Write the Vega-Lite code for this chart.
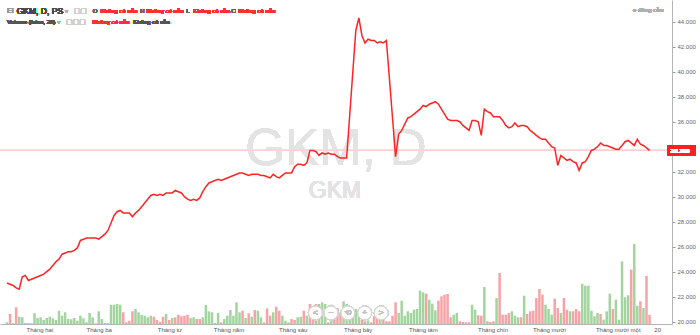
{
  "$schema": "https://vega.github.io/schema/vega-lite/v6.json",
  "width": 672,
  "height": 324,
  "autosize": {"type": "none"},
  "padding": {"left": 0, "top": 0, "right": 28, "bottom": 11},
  "background": "white",
  "config": {"view": {"stroke": null}, "font": "Liberation Sans", "axis": {"labelOverlap": false}},
  "data": {"values": [
    {"d":0,"close":23.1,"vol":1700,"dir":"up"},{"d":1,"close":23.0,"vol":10000,"dir":"down"},{"d":2,"close":22.9,"vol":1000,"dir":"up"},{"d":3,"close":22.7,"vol":16700,"dir":"down"},{"d":4,"close":22.6,"vol":7300,"dir":"up"},{"d":5,"close":23.6,"vol":6700,"dir":"up"},{"d":6,"close":23.7,"vol":1000,"dir":"up"},{"d":7,"close":23.3,"vol":1000,"dir":"up"},{"d":8,"close":23.4,"vol":700,"dir":"up"},{"d":9,"close":23.5,"vol":10700,"dir":"up"},
    {"d":10,"close":23.6,"vol":6000,"dir":"up"},{"d":11,"close":23.7,"vol":6700,"dir":"up"},{"d":12,"close":23.8,"vol":4000,"dir":"up"},{"d":13,"close":24.0,"vol":6000,"dir":"up"},{"d":14,"close":24.2,"vol":7300,"dir":"up"},{"d":15,"close":24.5,"vol":5700,"dir":"up"},{"d":16,"close":24.8,"vol":4000,"dir":"up"},{"d":17,"close":25.0,"vol":13300,"dir":"up"},{"d":18,"close":25.4,"vol":8300,"dir":"up"},{"d":19,"close":25.5,"vol":11700,"dir":"up"},
    {"d":20,"close":25.6,"vol":5000,"dir":"up"},{"d":21,"close":25.6,"vol":4700,"dir":"up"},{"d":22,"close":25.7,"vol":6000,"dir":"up"},{"d":23,"close":25.9,"vol":3300,"dir":"up"},{"d":24,"close":26.5,"vol":8300,"dir":"up"},{"d":25,"close":26.6,"vol":5700,"dir":"up"},{"d":26,"close":26.7,"vol":1700,"dir":"up"},{"d":27,"close":26.7,"vol":11000,"dir":"up"},{"d":28,"close":26.7,"vol":6700,"dir":"up"},{"d":29,"close":26.7,"vol":700,"dir":"down"},
    {"d":30,"close":26.6,"vol":12700,"dir":"up"},{"d":31,"close":26.8,"vol":5000,"dir":"up"},{"d":32,"close":27.0,"vol":1000,"dir":"up"},{"d":33,"close":27.3,"vol":1000,"dir":"up"},{"d":34,"close":27.9,"vol":19000,"dir":"up"},{"d":35,"close":28.5,"vol":19300,"dir":"up"},{"d":36,"close":28.8,"vol":20000,"dir":"up"},{"d":37,"close":28.9,"vol":19300,"dir":"up"},{"d":38,"close":28.7,"vol":11700,"dir":"down"},{"d":39,"close":28.7,"vol":1700,"dir":"down"},
    {"d":40,"close":28.7,"vol":3300,"dir":"down"},{"d":41,"close":28.4,"vol":12700,"dir":"down"},{"d":42,"close":28.7,"vol":15000,"dir":"up"},{"d":43,"close":28.9,"vol":11700,"dir":"up"},{"d":44,"close":29.2,"vol":9000,"dir":"up"},{"d":45,"close":29.5,"vol":8300,"dir":"up"},{"d":46,"close":29.8,"vol":6700,"dir":"up"},{"d":47,"close":30.1,"vol":8300,"dir":"up"},{"d":48,"close":30.2,"vol":7300,"dir":"down"},{"d":49,"close":30.1,"vol":4000,"dir":"down"},
    {"d":50,"close":30.2,"vol":2300,"dir":"down"},{"d":51,"close":30.1,"vol":7300,"dir":"down"},{"d":52,"close":30.3,"vol":10000,"dir":"up"},{"d":53,"close":30.3,"vol":4000,"dir":"down"},{"d":54,"close":30.3,"vol":6000,"dir":"up"},{"d":55,"close":30.5,"vol":6700,"dir":"down"},{"d":56,"close":30.4,"vol":9300,"dir":"down"},{"d":57,"close":30.3,"vol":7700,"dir":"down"},{"d":58,"close":30.0,"vol":8300,"dir":"down"},{"d":59,"close":29.8,"vol":9300,"dir":"down"},
    {"d":60,"close":29.7,"vol":6000,"dir":"up"},{"d":61,"close":29.8,"vol":6700,"dir":"up"},{"d":62,"close":29.7,"vol":5000,"dir":"down"},{"d":63,"close":29.9,"vol":5000,"dir":"down"},{"d":64,"close":30.4,"vol":6700,"dir":"up"},{"d":65,"close":30.8,"vol":19000,"dir":"up"},{"d":66,"close":31.1,"vol":12700,"dir":"up"},{"d":67,"close":31.2,"vol":11700,"dir":"up"},{"d":68,"close":31.3,"vol":1000,"dir":"up"},{"d":69,"close":31.4,"vol":11000,"dir":"up"},
    {"d":70,"close":31.3,"vol":1700,"dir":"down"},{"d":71,"close":31.4,"vol":5000,"dir":"up"},{"d":72,"close":31.5,"vol":8300,"dir":"up"},{"d":73,"close":31.6,"vol":14000,"dir":"up"},{"d":74,"close":31.7,"vol":8300,"dir":"up"},{"d":75,"close":31.8,"vol":21700,"dir":"up"},{"d":76,"close":31.9,"vol":11700,"dir":"up"},{"d":77,"close":31.9,"vol":13300,"dir":"down"},{"d":78,"close":31.8,"vol":6000,"dir":"up"},{"d":79,"close":31.7,"vol":10700,"dir":"down"},
    {"d":80,"close":31.8,"vol":7300,"dir":"up"},{"d":81,"close":31.8,"vol":14000,"dir":"down"},{"d":82,"close":31.8,"vol":13300,"dir":"up"},{"d":83,"close":31.7,"vol":6700,"dir":"up"},{"d":84,"close":31.7,"vol":1700,"dir":"down"},{"d":85,"close":31.6,"vol":15700,"dir":"down"},{"d":86,"close":31.5,"vol":8300,"dir":"down"},{"d":87,"close":31.8,"vol":11700,"dir":"up"},{"d":88,"close":31.6,"vol":17300,"dir":"down"},{"d":89,"close":31.5,"vol":13300,"dir":"down"},
    {"d":90,"close":31.7,"vol":8300,"dir":"up"},{"d":91,"close":31.9,"vol":3300,"dir":"up"},{"d":92,"close":31.9,"vol":1700,"dir":"up"},{"d":93,"close":31.9,"vol":5000,"dir":"down"},{"d":94,"close":32.4,"vol":4000,"dir":"down"},{"d":95,"close":32.6,"vol":6700,"dir":"up"},{"d":96,"close":32.6,"vol":7300,"dir":"up"},{"d":97,"close":32.5,"vol":13300,"dir":"down"},{"d":98,"close":32.7,"vol":8300,"dir":"up"},{"d":99,"close":33.7,"vol":20000,"dir":"down"},
    {"d":100,"close":33.7,"vol":15000,"dir":"down"},{"d":101,"close":33.6,"vol":20000,"dir":"down"},{"d":102,"close":33.3,"vol":20000,"dir":"up"},{"d":103,"close":33.5,"vol":21700,"dir":"up"},{"d":104,"close":33.4,"vol":20000,"dir":"up"},{"d":105,"close":33.5,"vol":1700,"dir":"down"},{"d":106,"close":33.4,"vol":19300,"dir":"up"},{"d":107,"close":33.4,"vol":14000,"dir":"down"},{"d":108,"close":33.2,"vol":16000,"dir":"down"},{"d":109,"close":33.1,"vol":11700,"dir":"down"},
    {"d":110,"close":33.1,"vol":22700,"dir":"up"},{"d":111,"close":33.1,"vol":20000,"dir":"up"},{"d":112,"close":36.5,"vol":12000,"dir":"up"},{"d":113,"close":39.9,"vol":14300,"dir":"up"},{"d":114,"close":43.3,"vol":15000,"dir":"up"},{"d":115,"close":44.3,"vol":9300,"dir":"up"},{"d":116,"close":42.9,"vol":4300,"dir":"down"},{"d":117,"close":42.3,"vol":2700,"dir":"down"},{"d":118,"close":42.6,"vol":3700,"dir":"up"},{"d":119,"close":42.5,"vol":1700,"dir":"down"},
    {"d":120,"close":42.5,"vol":7700,"dir":"down"},{"d":121,"close":42.3,"vol":5000,"dir":"down"},{"d":122,"close":42.4,"vol":5000,"dir":"up"},{"d":123,"close":42.3,"vol":7000,"dir":"down"},{"d":124,"close":42.5,"vol":2700,"dir":"down"},{"d":125,"close":39.4,"vol":2700,"dir":"down"},{"d":126,"close":36.3,"vol":8300,"dir":"down"},{"d":127,"close":33.2,"vol":21700,"dir":"down"},{"d":128,"close":35.0,"vol":11000,"dir":"up"},{"d":129,"close":35.3,"vol":23300,"dir":"up"},
    {"d":130,"close":35.8,"vol":8300,"dir":"up"},{"d":131,"close":36.3,"vol":12700,"dir":"up"},{"d":132,"close":36.4,"vol":11000,"dir":"up"},{"d":133,"close":36.6,"vol":14300,"dir":"up"},{"d":134,"close":36.8,"vol":15000,"dir":"up"},{"d":135,"close":37.0,"vol":33300,"dir":"up"},{"d":136,"close":37.3,"vol":31700,"dir":"up"},{"d":137,"close":37.2,"vol":30300,"dir":"down"},{"d":138,"close":37.4,"vol":24300,"dir":"up"},{"d":139,"close":37.5,"vol":20300,"dir":"up"},
    {"d":140,"close":37.6,"vol":13700,"dir":"up"},{"d":141,"close":37.4,"vol":23300,"dir":"down"},{"d":142,"close":37.0,"vol":27700,"dir":"down"},{"d":143,"close":36.6,"vol":29300,"dir":"down"},{"d":144,"close":36.2,"vol":30000,"dir":"down"},{"d":145,"close":36.1,"vol":6700,"dir":"down"},{"d":146,"close":36.1,"vol":9300,"dir":"up"},{"d":147,"close":36.1,"vol":11000,"dir":"up"},{"d":148,"close":36.0,"vol":2700,"dir":"down"},{"d":149,"close":35.7,"vol":2000,"dir":"down"},
    {"d":150,"close":35.5,"vol":1700,"dir":"down"},{"d":151,"close":35.3,"vol":1700,"dir":"down"},{"d":152,"close":36.1,"vol":19300,"dir":"up"},{"d":153,"close":36.1,"vol":14300,"dir":"up"},{"d":154,"close":36.0,"vol":8700,"dir":"down"},{"d":155,"close":34.9,"vol":8300,"dir":"down"},{"d":156,"close":37.0,"vol":37000,"dir":"up"},{"d":157,"close":36.8,"vol":2700,"dir":"down"},{"d":158,"close":36.7,"vol":2000,"dir":"down"},{"d":159,"close":36.4,"vol":2700,"dir":"down"},
    {"d":160,"close":36.4,"vol":26000,"dir":"up"},{"d":161,"close":36.4,"vol":51000,"dir":"down"},{"d":162,"close":36.1,"vol":9300,"dir":"down"},{"d":163,"close":35.7,"vol":9300,"dir":"down"},{"d":164,"close":35.5,"vol":11000,"dir":"down"},{"d":165,"close":35.6,"vol":12700,"dir":"up"},{"d":166,"close":35.9,"vol":8300,"dir":"up"},{"d":167,"close":35.6,"vol":6700,"dir":"up"},{"d":168,"close":35.7,"vol":6700,"dir":"down"},{"d":169,"close":35.7,"vol":28300,"dir":"up"},
    {"d":170,"close":35.6,"vol":10000,"dir":"down"},{"d":171,"close":35.3,"vol":12700,"dir":"down"},{"d":172,"close":35.1,"vol":13300,"dir":"down"},{"d":173,"close":34.9,"vol":26000,"dir":"down"},{"d":174,"close":34.7,"vol":35000,"dir":"down"},{"d":175,"close":34.6,"vol":29300,"dir":"down"},{"d":176,"close":34.6,"vol":19300,"dir":"up"},{"d":177,"close":34.3,"vol":15000,"dir":"up"},{"d":178,"close":34.0,"vol":9300,"dir":"up"},{"d":179,"close":33.9,"vol":25300,"dir":"down"},
    {"d":180,"close":32.5,"vol":16000,"dir":"down"},{"d":181,"close":33.3,"vol":11000,"dir":"up"},{"d":182,"close":33.1,"vol":26000,"dir":"down"},{"d":183,"close":32.9,"vol":14300,"dir":"down"},{"d":184,"close":33.0,"vol":12700,"dir":"up"},{"d":185,"close":32.8,"vol":12700,"dir":"down"},{"d":186,"close":32.7,"vol":15000,"dir":"down"},{"d":187,"close":32.1,"vol":12700,"dir":"down"},{"d":188,"close":32.7,"vol":40300,"dir":"up"},{"d":189,"close":32.8,"vol":38300,"dir":"up"},
    {"d":190,"close":33.2,"vol":38300,"dir":"up"},{"d":191,"close":33.7,"vol":13300,"dir":"up"},{"d":192,"close":33.8,"vol":7700,"dir":"up"},{"d":193,"close":34.0,"vol":11000,"dir":"up"},{"d":194,"close":34.3,"vol":10000,"dir":"down"},{"d":195,"close":34.1,"vol":4300,"dir":"up"},{"d":196,"close":34.1,"vol":12700,"dir":"up"},{"d":197,"close":34.0,"vol":30300,"dir":"up"},{"d":198,"close":33.9,"vol":15000,"dir":"down"},{"d":199,"close":33.8,"vol":24300,"dir":"up"},
    {"d":200,"close":33.8,"vol":4300,"dir":"up"},{"d":201,"close":34.1,"vol":62700,"dir":"up"},{"d":202,"close":34.4,"vol":26700,"dir":"up"},{"d":203,"close":34.5,"vol":28700,"dir":"up"},{"d":204,"close":34.3,"vol":54300,"dir":"down"},{"d":205,"close":34.1,"vol":80000,"dir":"up"},{"d":206,"close":34.6,"vol":18300,"dir":"up"},{"d":207,"close":34.2,"vol":22700,"dir":"down"},{"d":208,"close":34.1,"vol":16000,"dir":"up"},{"d":209,"close":33.9,"vol":48000,"dir":"down"},
    {"d":210,"close":33.7,"vol":9000,"dir":"down"}
  ]},
  "layer": [
    {
      "mark": {"type": "bar", "size": 2.5, "clip": true},
      "encoding": {
        "x": {"field": "d", "type": "quantitative", "scale": {"domain": [-0.644, 215.7], "nice": false, "zero": false},
          "axis": {"title": null, "values": [10.6, 30, 53.1, 72.4, 93.4, 114.6, 135.9, 158.7, 177.1, 199.6, 212.5], "tickCount": 30,
            "labelExpr": "datum.value < 20 ? 'Tháng hai' : datum.value < 40 ? 'Tháng ba' : datum.value < 60 ? 'Tháng tư' : datum.value < 80 ? 'Tháng năm' : datum.value < 100 ? 'Tháng sáu' : datum.value < 120 ? 'Tháng bảy' : datum.value < 145 ? 'Tháng tám' : datum.value < 165 ? 'Tháng chín' : datum.value < 185 ? 'Tháng mười' : datum.value < 205 ? 'Tháng mười một' : '20'",
            "ticks": false, "grid": false, "domainColor": "#b4b4b4", "labelFontSize": 6, "labelColor": "#555555", "labelPadding": 2, "labelOverlap": false, "labelFlush": false, "labelFont": "Liberation Sans"}},
        "y": {"field": "vol", "type": "quantitative", "scale": {"domain": [0, 324000], "nice": false}, "axis": null},
        "color": {"field": "dir", "type": "nominal", "scale": {"domain": ["up", "down"], "range": ["#a2d49e", "#f7a3a6"]}, "legend": null}
      }
    },
    {
      "layer": [
        {"mark": {"type": "text", "text": "GKM, D", "fontSize": 51, "color": "#e3e3e3", "align": "center", "baseline": "alphabetic", "font": "Liberation Sans"},
         "encoding": {"x": {"datum": 107.5, "type": "quantitative"}, "y": {"datum": 32.54, "type": "quantitative"}}},
        {"mark": {"type": "text", "text": "GKM", "fontSize": 23, "color": "#e3e3e3", "align": "center", "baseline": "alphabetic", "font": "Liberation Sans"},
         "encoding": {"x": {"datum": 107.2, "type": "quantitative"}, "y": {"datum": 29.9, "type": "quantitative"}}},
        {"mark": {"type": "rule", "color": "#fcd0d0", "strokeWidth": 1},
         "encoding": {"y": {"datum": 33.7, "type": "quantitative"}}},
        {"mark": {"type": "line", "color": "#ff2424", "strokeWidth": 1.5, "clip": true},
         "encoding": {
           "x": {"field": "d", "type": "quantitative"},
           "y": {"field": "close", "type": "quantitative", "scale": {"domain": [19.816, 45.736], "nice": false, "zero": false},
             "axis": {"title": null, "orient": "right", "values": [20, 22, 24, 26, 28, 30, 32, 34, 36, 38, 40, 42, 44], "tickCount": 30, "format": ".3f", "grid": false, "tickSize": 3, "tickColor": "#9a9a9a", "domainColor": "#b4b4b4", "labelFontSize": 6, "labelColor": "#666666", "labelPadding": 2, "labelOverlap": false, "labelFlush": false, "labelFont": "Liberation Sans"}}
         }},
        {"mark": {"type": "point", "shape": "circle", "size": 190, "filled": true, "fill": "white", "fillOpacity": 0.55, "stroke": "#d4d4d4", "strokeWidth": 1},
         "encoding": {"x": {"datum": 100.8, "type": "quantitative"}, "y": {"datum": 20.7, "type": "quantitative"}}},
        {"mark": {"type": "point", "shape": "circle", "size": 190, "filled": true, "fill": "white", "fillOpacity": 0.55, "stroke": "#d4d4d4", "strokeWidth": 1},
         "encoding": {"x": {"datum": 105.9, "type": "quantitative"}, "y": {"datum": 20.7, "type": "quantitative"}}},
        {"mark": {"type": "point", "shape": "circle", "size": 190, "filled": true, "fill": "white", "fillOpacity": 0.55, "stroke": "#d4d4d4", "strokeWidth": 1},
         "encoding": {"x": {"datum": 111.4, "type": "quantitative"}, "y": {"datum": 20.7, "type": "quantitative"}}},
        {"mark": {"type": "point", "shape": "circle", "size": 190, "filled": true, "fill": "white", "fillOpacity": 0.55, "stroke": "#d4d4d4", "strokeWidth": 1},
         "encoding": {"x": {"datum": 116.9, "type": "quantitative"}, "y": {"datum": 20.7, "type": "quantitative"}}},
        {"mark": {"type": "point", "shape": "circle", "size": 190, "filled": true, "fill": "white", "fillOpacity": 0.55, "stroke": "#d4d4d4", "strokeWidth": 1},
         "encoding": {"x": {"datum": 122.3, "type": "quantitative"}, "y": {"datum": 20.7, "type": "quantitative"}}},
        {"mark": {"type": "text", "text": "<", "fontSize": 8, "color": "#c4c4c4", "align": "center", "baseline": "middle"},
         "encoding": {"x": {"datum": 100.8, "type": "quantitative"}, "y": {"datum": 20.7, "type": "quantitative"}}},
        {"mark": {"type": "text", "text": "−", "fontSize": 8, "color": "#c4c4c4", "align": "center", "baseline": "middle"},
         "encoding": {"x": {"datum": 105.9, "type": "quantitative"}, "y": {"datum": 20.7, "type": "quantitative"}}},
        {"mark": {"type": "text", "text": "⟲", "fontSize": 8, "color": "#c4c4c4", "align": "center", "baseline": "middle", "font": "DejaVu Sans"},
         "encoding": {"x": {"datum": 111.4, "type": "quantitative"}, "y": {"datum": 20.7, "type": "quantitative"}}},
        {"mark": {"type": "text", "text": "+", "fontSize": 8, "color": "#c4c4c4", "align": "center", "baseline": "middle"},
         "encoding": {"x": {"datum": 116.9, "type": "quantitative"}, "y": {"datum": 20.7, "type": "quantitative"}}},
        {"mark": {"type": "text", "text": ">", "fontSize": 8, "color": "#c4c4c4", "align": "center", "baseline": "middle"},
         "encoding": {"x": {"datum": 122.3, "type": "quantitative"}, "y": {"datum": 20.7, "type": "quantitative"}}},
        {"mark": {"type": "rect", "color": "#ff2020", "clip": false},
         "encoding": {"x": {"datum": 215.75, "type": "quantitative"}, "x2": {"datum": 225.0}, "y": {"datum": 34.08, "type": "quantitative"}, "y2": {"datum": 33.28}}},
        {"mark": {"type": "text", "text": "33.700", "fontSize": 6, "fontWeight": "bold", "color": "white", "align": "left", "baseline": "middle", "clip": false},
         "encoding": {"x": {"datum": 217.0, "type": "quantitative"}, "y": {"datum": 33.68, "type": "quantitative"}}},
        {"mark": {"type": "text", "text": "⊟", "fontSize": 8, "color": "#9a9a9a", "align": "left", "baseline": "middle", "font": "DejaVu Sans"},
         "encoding": {"x": {"datum": 0, "type": "quantitative"}, "y": {"datum": 44.86, "type": "quantitative"}}},
        {"mark": {"type": "text", "text": "GKM, D, PS", "fontSize": 8.5, "color": "#4a4a4a", "align": "left", "baseline": "middle"},
         "encoding": {"x": {"datum": 3.2, "type": "quantitative"}, "y": {"datum": 44.86, "type": "quantitative"}}},
        {"mark": {"type": "text", "text": "▾", "fontSize": 6, "color": "#b0b0b0", "align": "left", "baseline": "middle", "font": "DejaVu Sans"},
         "encoding": {"x": {"datum": 19.0, "type": "quantitative"}, "y": {"datum": 44.86, "type": "quantitative"}}},
        {"mark": {"type": "text", "text": "▢▢", "fontSize": 7, "color": "#d0d0d0", "align": "left", "baseline": "middle", "font": "DejaVu Sans"},
         "encoding": {"x": {"datum": 21.8, "type": "quantitative"}, "y": {"datum": 44.86, "type": "quantitative"}}},
        {"mark": {"type": "text", "text": "O", "fontSize": 6, "color": "#666666", "align": "left", "baseline": "middle"},
         "encoding": {"x": {"datum": 28.0, "type": "quantitative"}, "y": {"datum": 44.86, "type": "quantitative"}}},
        {"mark": {"type": "text", "text": "Không có sẵn", "fontSize": 6, "color": "#ff3030", "align": "left", "baseline": "middle"},
         "encoding": {"x": {"datum": 30.6, "type": "quantitative"}, "y": {"datum": 44.86, "type": "quantitative"}}},
        {"mark": {"type": "text", "text": "H", "fontSize": 6, "color": "#666666", "align": "left", "baseline": "middle"},
         "encoding": {"x": {"datum": 43.5, "type": "quantitative"}, "y": {"datum": 44.86, "type": "quantitative"}}},
        {"mark": {"type": "text", "text": "Không có sẵn", "fontSize": 6, "color": "#ff3030", "align": "left", "baseline": "middle"},
         "encoding": {"x": {"datum": 45.7, "type": "quantitative"}, "y": {"datum": 44.86, "type": "quantitative"}}},
        {"mark": {"type": "text", "text": "L", "fontSize": 6, "color": "#666666", "align": "left", "baseline": "middle"},
         "encoding": {"x": {"datum": 58.6, "type": "quantitative"}, "y": {"datum": 44.86, "type": "quantitative"}}},
        {"mark": {"type": "text", "text": "Không có sẵn", "fontSize": 6, "color": "#ff3030", "align": "left", "baseline": "middle"},
         "encoding": {"x": {"datum": 60.9, "type": "quantitative"}, "y": {"datum": 44.86, "type": "quantitative"}}},
        {"mark": {"type": "text", "text": "C", "fontSize": 6, "color": "#666666", "align": "left", "baseline": "middle"},
         "encoding": {"x": {"datum": 73.4, "type": "quantitative"}, "y": {"datum": 44.86, "type": "quantitative"}}},
        {"mark": {"type": "text", "text": "Không có sẵn", "fontSize": 6, "color": "#ff3030", "align": "left", "baseline": "middle"},
         "encoding": {"x": {"datum": 75.7, "type": "quantitative"}, "y": {"datum": 44.86, "type": "quantitative"}}},
        {"mark": {"type": "text", "text": "Volume (false, 20)", "fontSize": 6, "color": "#555555", "align": "left", "baseline": "middle"},
         "encoding": {"x": {"datum": 0, "type": "quantitative"}, "y": {"datum": 43.98, "type": "quantitative"}}},
        {"mark": {"type": "text", "text": "▾", "fontSize": 6, "color": "#b0b0b0", "align": "left", "baseline": "middle", "font": "DejaVu Sans"},
         "encoding": {"x": {"datum": 16.4, "type": "quantitative"}, "y": {"datum": 43.98, "type": "quantitative"}}},
        {"mark": {"type": "text", "text": "▢▢▢", "fontSize": 7, "color": "#d0d0d0", "align": "left", "baseline": "middle", "font": "DejaVu Sans"},
         "encoding": {"x": {"datum": 19.3, "type": "quantitative"}, "y": {"datum": 43.98, "type": "quantitative"}}},
        {"mark": {"type": "text", "text": "Không có sẵn", "fontSize": 6, "color": "#ff3030", "align": "left", "baseline": "middle"},
         "encoding": {"x": {"datum": 28.0, "type": "quantitative"}, "y": {"datum": 43.98, "type": "quantitative"}}},
        {"mark": {"type": "text", "text": "Không có sẵn", "fontSize": 6, "color": "#555555", "align": "left", "baseline": "middle"},
         "encoding": {"x": {"datum": 41.2, "type": "quantitative"}, "y": {"datum": 43.98, "type": "quantitative"}}},
        {"mark": {"type": "text", "text": "● đóng cửa", "fontSize": 6, "color": "#b0b0b0", "align": "right", "baseline": "middle"},
         "encoding": {"x": {"datum": 214.5, "type": "quantitative"}, "y": {"datum": 44.94, "type": "quantitative"}}}
      ]
    }
  ],
  "resolve": {"scale": {"y": "independent"}}
}
